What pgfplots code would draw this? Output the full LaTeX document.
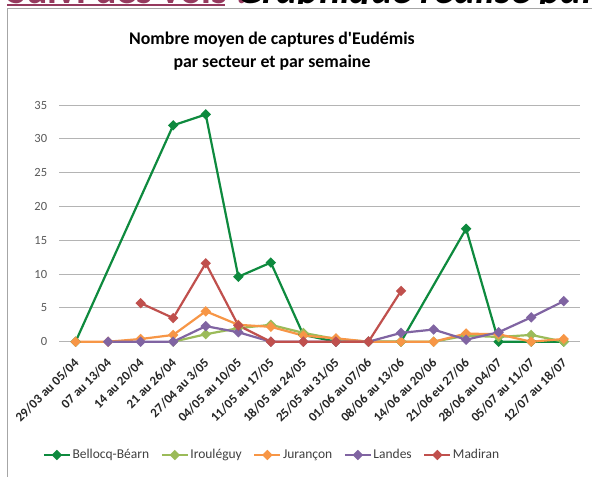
\documentclass[border=0pt]{standalone}
\usepackage{pgfplots}
\pgfplotsset{compat=1.18}
\usepackage{fontspec}
\setmainfont{Carlito}[Ligatures=TeXOff]
\definecolor{cBel}{HTML}{0E8A3E}
\definecolor{cIro}{HTML}{9BBB59}
\definecolor{cJur}{HTML}{F79646}
\definecolor{cLan}{HTML}{8064A2}
\definecolor{cMad}{HTML}{C0504D}
\definecolor{cMar}{HTML}{953A5E}
\definecolor{cFrame}{HTML}{A6A6A6}
\definecolor{cGrid}{HTML}{B4B4B4}
\definecolor{cYtick}{HTML}{595959}
\definecolor{cXtick}{HTML}{262626}
\definecolor{cLeg}{HTML}{404040}
\begin{document}
\begin{tikzpicture}
\begin{scope}[x=1bp,y=-1bp]
\useasboundingbox (0,0) rectangle (592,477);
\fill[white] (0,0) rectangle (592,477);
\begin{scope}
\clip (0,0) rectangle (592,3.4);
\node[anchor=base west, inner sep=0pt, text=cMar, font=\fontsize{40bp}{44bp}\selectfont\bfseries] at (7,3.4) {Suivi des vols :};
\node[anchor=base west, inner sep=0pt, text=black, font=\fontsize{40bp}{44bp}\selectfont\bfseries\itshape] at (237,3.4) {Graphique réalisé par};
\end{scope}
\fill[cMar] (7,4) rectangle (225,5.6);
\draw[cFrame, line width=1bp] (7.5,477) -- (7.5,8.5) -- (592,8.5);
\node[anchor=base, inner sep=0pt, font=\fontsize{17.8bp}{20bp}\selectfont\bfseries] at (272,45) {Nombre moyen de captures d'Eudémis};
\node[anchor=base, inner sep=0pt, font=\fontsize{17.8bp}{20bp}\selectfont\bfseries] at (272,67.5) {par secteur et par semaine};
\coordinate (A) at (59.3,341.7);
\end{scope}
\begin{axis}[
  at={(A)}, anchor=south west,
  width=520.7bp, height=236.7bp, scale only axis,
  xmin=-0.5, xmax=15.5, ymin=0, ymax=35,
  ytick={0,5,...,35},
  xtick={0,...,15},
  xticklabels={29/03 au 05/04,07 au 13/04,14 au 20/04,21 au 26/04,27/04 au 3/05,04/05 au 10/05,11/05 au 17/05,18/05 au 24/05,25/05 au 31/05,01/06 au 07/06,08/06 au 13/06,14/06 au 20/06,21/06 eu 27/06,28/06 au 04/07,05/07 au 11/07,12/07 au 18/07},
  axis line style={draw=none},
  major tick length=0pt,
  ymajorgrids, grid style={cGrid, line width=0.9bp},
  clip=false,
  /pgf/number format/assume math mode=true,
  yticklabel style={font=\fontsize{12.5bp}{14bp}\selectfont, text=cYtick, inner sep=0pt, xshift=-12bp, anchor=east},
  xticklabel style={xshift=1bp, yshift=-19bp, rotate=45, anchor=east, inner sep=0pt, font=\fontsize{13bp}{15bp}\selectfont\bfseries, text=cXtick},
  legend columns=-1,
  legend style={at={(0.408,-0.4787)}, anchor=center, draw=none, fill=none,
    font=\fontsize{13.5bp}{15bp}\selectfont, text=cLeg,
    /tikz/every even column/.append style={column sep=10bp},
    nodes={inner sep=1.5bp}},
  legend image code/.code={\draw[mark repeat=2,mark phase=2] plot coordinates {(0bp,0bp) (13bp,0bp) (26bp,0bp)};},
  every axis plot/.append style={line width=2.2bp, mark=square*, mark size=2.6bp, mark options={rotate=45, solid}},
]
\addplot[color=cBel] coordinates {(0,0) (3,32) (4,33.6) (5,9.6) (6,11.7) (7,1.0) (8,0) (9,0) (10,0) (12,16.7) (13,0) (14,0) (15,0)};
\addlegendentry{Bellocq-Béarn}
\addplot[color=cIro] coordinates {(3,0) (4,1.1) (5,2.0) (6,2.5) (7,1.3) (8,0.4) (9,0) (10,0) (11,0) (12,0.9) (13,0.7) (14,1.0) (15,0)};
\addlegendentry{Irouléguy}
\addplot[color=cJur] coordinates {(0,0) (1,0) (2,0.4) (3,1.0) (4,4.5) (5,2.5) (6,2.2) (7,0.9) (8,0.5) (9,0) (10,0) (11,0) (12,1.2) (13,1.1) (14,0) (15,0.4)};
\addlegendentry{Jurançon}
\addplot[color=cLan] coordinates {(1,0) (2,0) (3,0) (4,2.3) (5,1.4) (6,0) (7,0) (8,0) (9,0) (10,1.3) (11,1.8) (12,0.3) (13,1.4) (14,3.6) (15,6.0)};
\addlegendentry{Landes}
\addplot[color=cMad] coordinates {(2,5.7) (3,3.5) (4,11.6) (5,2.4) (6,0) (7,0) (8,0) (9,0) (10,7.5)};
\addlegendentry{Madiran}
\end{axis}
\end{tikzpicture}
\end{document}
